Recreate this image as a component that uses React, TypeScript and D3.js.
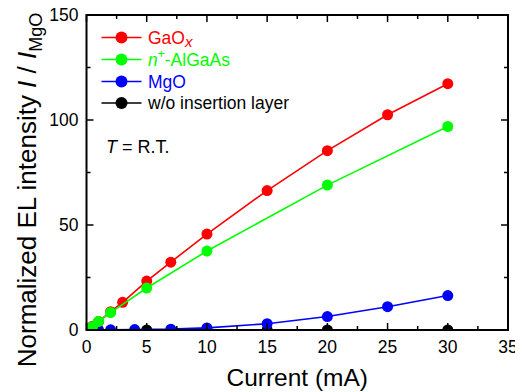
import React from "react";
import * as d3 from "d3";

// Current (mA) at which each series was measured, and the normalized EL intensity
const gaoxCurrent = [0.2, 0.5, 1, 2, 3, 5, 7, 10, 15, 20, 25, 30];
const gaoxIntensity = [0.6, 1.8, 4.0, 8.7, 13.2, 23.3, 32.3, 45.7, 66.4, 85.4, 102.5, 117.3];

const algaasCurrent = [0.2, 0.5, 1, 2, 5, 10, 20, 30];
const algaasIntensity = [0.5, 1.6, 4.1, 8.3, 20.0, 37.6, 69.0, 96.9];

const mgoCurrent = [0.5, 1, 2, 4, 7, 10, 15, 20, 25, 30];
const mgoIntensity = [0.0, 0.05, 0.1, 0.2, 0.4, 1.0, 3.0, 6.4, 11.1, 16.4];

const bareCurrent = [0.5, 5, 10, 15, 20, 30];
const bareIntensity = [0, 0, 0, 0, 0, 0];

const xTicks = [0, 5, 10, 15, 20, 25, 30, 35];
const yTicks = [0, 50, 100, 150];

const W = 515;
const H = 392;
const M = { left: 86.5, right: 508, top: 15, bottom: 330 };
const FONT = "'Liberation Sans', Arial, Helvetica, sans-serif";

const x = d3.scaleLinear().domain([0, 35]).range([M.left, M.right]);
const y = d3.scaleLinear().domain([0, 150]).range([M.bottom, M.top]);

type Series = { key: string; color: string; xs: number[]; ys: number[] };

const drawOrder: Series[] = [
  { key: "bare", color: "#000000", xs: bareCurrent, ys: bareIntensity },
  { key: "mgo", color: "#0000ff", xs: mgoCurrent, ys: mgoIntensity },
  { key: "gaox", color: "#ff0000", xs: gaoxCurrent, ys: gaoxIntensity },
  { key: "algaas", color: "#00ff00", xs: algaasCurrent, ys: algaasIntensity },
];

const line = d3
  .line<[number, number]>()
  .x((d) => x(d[0]))
  .y((d) => y(d[1]));

const xMinor = d3.range(0, 35.01, 2.5).filter((v) => v % 5 !== 0);
const yMinor = d3.range(0, 150.01, 25).filter((v) => v % 50 !== 0);

export default function App() {
  const major = 7;
  const minor = 4;
  const legendRows = [
    { color: "#ff0000", cy: 37.5 },
    { color: "#00ff00", cy: 59.5 },
    { color: "#0000ff", cy: 81.5 },
    { color: "#000000", cy: 103 },
  ];
  return (
    <svg
      width={W}
      height={H}
      style={{ position: "absolute", left: 0, top: 0, background: "#fff" }}
      fontFamily={FONT}
    >
      <defs>
        <clipPath id="plot-clip">
          <rect x={M.left} y={M.top} width={M.right - M.left} height={M.bottom - M.top} />
        </clipPath>
      </defs>

      {/* series */}
      <g clipPath="url(#plot-clip)">
        {drawOrder.map((s) => {
          const pts = s.xs.map((v, i) => [v, s.ys[i]] as [number, number]);
          return (
            <g key={s.key}>
              <path d={line(pts) ?? ""} fill="none" stroke={s.color} strokeWidth={1.6} />
              {pts.map((p, i) => (
                <circle key={i} cx={x(p[0])} cy={y(p[1])} r={5.5} fill={s.color} />
              ))}
            </g>
          );
        })}
      </g>

      {/* frame */}
      <rect
        x={M.left}
        y={M.top}
        width={M.right - M.left}
        height={M.bottom - M.top}
        fill="none"
        stroke="#000"
        strokeWidth={2}
      />

      {/* x ticks (bottom and top, inward) */}
      {xTicks.map((t) => (
        <g key={"xt" + t}>
          <line x1={x(t)} x2={x(t)} y1={M.bottom} y2={M.bottom - major} stroke="#000" strokeWidth={1.5} />
          <line x1={x(t)} x2={x(t)} y1={M.top} y2={M.top + major} stroke="#000" strokeWidth={1.5} />
          <text x={x(t)} y={353} textAnchor="middle" fontSize={17.5}>
            {t}
          </text>
        </g>
      ))}
      {xMinor.map((t) => (
        <g key={"xm" + t}>
          <line x1={x(t)} x2={x(t)} y1={M.bottom} y2={M.bottom - minor} stroke="#000" strokeWidth={1.5} />
          <line x1={x(t)} x2={x(t)} y1={M.top} y2={M.top + minor} stroke="#000" strokeWidth={1.5} />
        </g>
      ))}

      {/* y ticks (left and right, inward) */}
      {yTicks.map((t) => (
        <g key={"yt" + t}>
          <line x1={M.left} x2={M.left + major} y1={y(t)} y2={y(t)} stroke="#000" strokeWidth={1.5} />
          <line x1={M.right} x2={M.right - major} y1={y(t)} y2={y(t)} stroke="#000" strokeWidth={1.5} />
          <text x={78.5} y={y(t) + 6} textAnchor="end" fontSize={17.5}>
            {t}
          </text>
        </g>
      ))}
      {yMinor.map((t) => (
        <g key={"ym" + t}>
          <line x1={M.left} x2={M.left + minor} y1={y(t)} y2={y(t)} stroke="#000" strokeWidth={1.5} />
          <line x1={M.right} x2={M.right - minor} y1={y(t)} y2={y(t)} stroke="#000" strokeWidth={1.5} />
        </g>
      ))}

      {/* axis titles */}
      <text x={(M.left + M.right) / 2} y={386} textAnchor="middle" fontSize={24.5}>
        Current (mA)
      </text>
      <text transform="translate(36,190) rotate(-90)" textAnchor="middle" fontSize={26}>
        Normalized EL intensity <tspan fontStyle="italic">I</tspan> / <tspan fontStyle="italic">I</tspan>
        <tspan fontSize={18} dy={6}>MgO</tspan>
      </text>

      {/* legend */}
      {legendRows.map((r, i) => (
        <g key={"lg" + i}>
          <line x1={101.5} x2={141.5} y1={r.cy} y2={r.cy} stroke={r.color} strokeWidth={1.6} />
          <circle cx={121.5} cy={r.cy} r={6} fill={r.color} />
        </g>
      ))}
      <text x={148} y={37.5 + 6} fontSize={17.5} fill="#ff0000">
        GaO<tspan fontStyle="italic" fontSize={15} dy={3}>x</tspan>
      </text>
      <text x={148} y={59.5 + 6} fontSize={17.5} fill="#00ff00">
        <tspan fontStyle="italic">n</tspan>
        <tspan fontSize={12} dy={-8}>+</tspan>
        <tspan dy={8}>-AlGaAs</tspan>
      </text>
      <text x={148} y={81.5 + 6} fontSize={17.5} fill="#0000ff">
        MgO
      </text>
      <text x={148} y={103 + 6} fontSize={17.5} fill="#000">
        w/o insertion layer
      </text>

      {/* measurement condition */}
      <text x={106} y={152.5} fontSize={18}>
        <tspan fontStyle="italic">T</tspan> = R.T.
      </text>
    </svg>
  );
}
